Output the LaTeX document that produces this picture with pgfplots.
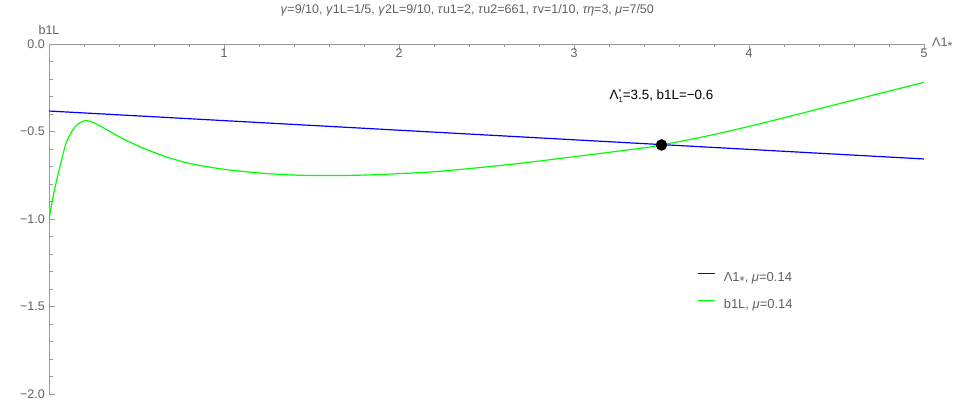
\documentclass[border=0pt]{standalone}
\usepackage{pgfplots}
\pgfplotsset{compat=1.18}
\usepackage{fontspec}
\setmainfont{Liberation Sans}
\definecolor{axgray}{gray}{0.6}
\definecolor{lblgray}{gray}{0.38}
\definecolor{mblue}{rgb}{0,0,1}
\definecolor{mgreen}{rgb}{0,1,0}
\newcommand{\lstar}{\raisebox{-0.32em}{*}}
\begin{document}
\begin{tikzpicture}
\begin{axis}[
  scale only axis, width=875bp, height=350bp,
  xmin=0, xmax=5, ymin=-2, ymax=0,
  axis x line*=top, axis y line*=left,
  x axis line style={-}, y axis line style={-},
  axis line style={axgray, line width=0.8bp},
  tick align=inside,
  major tick length=6bp, minor tick length=3.5bp,
  every tick/.style={axgray, line width=0.7bp},
  xtick={1,2,3,4,5},
  xticklabels={1,2,3,4,5},
  minor xtick={0.2,0.4,0.6,0.8,1.2,1.4,1.6,1.8,2.2,2.4,2.6,2.8,3.2,3.4,3.6,3.8,4.2,4.4,4.6,4.8},
  ytick={-2,-1.5,-1,-0.5,0},
  yticklabels={−2.0,−1.5,−1.0,−0.5,0.0},
  minor ytick={-1.9,-1.8,-1.7,-1.6,-1.4,-1.3,-1.2,-1.1,-0.9,-0.8,-0.7,-0.6,-0.4,-0.3,-0.2,-0.1},
  every tick label/.append style={font=\fontsize{12.5bp}{14bp}\selectfont, text=lblgray},
  xticklabel style={anchor=north, inner sep=0pt, yshift=-5bp},
  yticklabel style={anchor=east, inner sep=0pt, xshift=-4bp},
  title={\textit{γ}=9/10, \textit{γ}1L=1/5, \textit{γ}2L=9/10, \textit{τ}u1=2, \textit{τ}u2=661, \textit{τ}v=1/10, \textit{τη}=3, \textit{μ}=7/50},
  title style={at={(axis description cs:0.478,1)}, anchor=base, yshift=24.5bp, inner sep=0pt, font=\fontsize{12.5bp}{14bp}\selectfont, text=lblgray},
  xlabel={Λ1\lstar},
  ylabel={b1L},
  every axis x label/.style={at={(axis description cs:1,1)}, anchor=west, xshift=8bp, inner sep=0pt, font=\fontsize{12.5bp}{14bp}\selectfont, text=lblgray},
  every axis y label/.style={at={(axis description cs:0,1)}, anchor=south, yshift=9bp, inner sep=0pt, font=\fontsize{12.5bp}{14bp}\selectfont, text=lblgray},
  legend style={draw=none, fill=none, at={(axis description cs:0.741,0.351)}, anchor=north west,
    font=\fontsize{13bp}{15bp}\selectfont, text=lblgray, row sep=14bp, column sep=8bp, inner sep=0pt,
    nodes={inner sep=0pt, text height=10bp, text depth=3bp}},
  legend cell align=left,
  legend image code/.code={\draw[#1] (0bp,4.5bp) -- (17bp,4.5bp);},
]
\addplot[mblue, line width=1.2bp] coordinates {(0,-0.383) (5,-0.657)};
\addlegendentry{Λ1\lstar, \textit{μ}=0.14}
\addplot[mgreen, line width=1.2bp, smooth] coordinates {
(0,-1.0) (0.03,-0.84) (0.063,-0.70) (0.10,-0.56) (0.15,-0.472) (0.206,-0.438)
(0.26,-0.452) (0.33,-0.49) (0.42,-0.54) (0.52,-0.587) (0.65,-0.638) (0.80,-0.682)
(1.0,-0.716) (1.2,-0.737) (1.4,-0.749) (1.6,-0.752) (1.8,-0.749) (2.0,-0.741)
(2.2,-0.730) (2.4,-0.712) (2.6,-0.692) (2.8,-0.669) (3.0,-0.644) (3.2,-0.619)
(3.4,-0.593) (3.5,-0.577) (3.75,-0.528) (4.0,-0.471) (4.25,-0.409) (4.5,-0.345)
(4.75,-0.282) (5.0,-0.219)};
\addlegendentry{b1L, \textit{μ}=0.14}
\addplot[only marks, mark=*, mark size=5.5bp, black] coordinates {(3.5,-0.577)};
\node[anchor=base, inner sep=0pt, font=\fontsize{13.4bp}{15bp}\selectfont, text=black] at (axis cs:3.5,-0.316)
  {Λ\raisebox{-3bp}{\fontsize{7.5bp}{7bp}\selectfont\setlength{\lineskip}{3.5bp}\shortstack[l]{*\\1}}=3.5, b1L=−0.6};
\end{axis}
\path ([shift={(-49bp,-12bp)}]current axis.south west) rectangle ([shift={(49bp,44bp)}]current axis.north east);
\end{tikzpicture}
\end{document}
